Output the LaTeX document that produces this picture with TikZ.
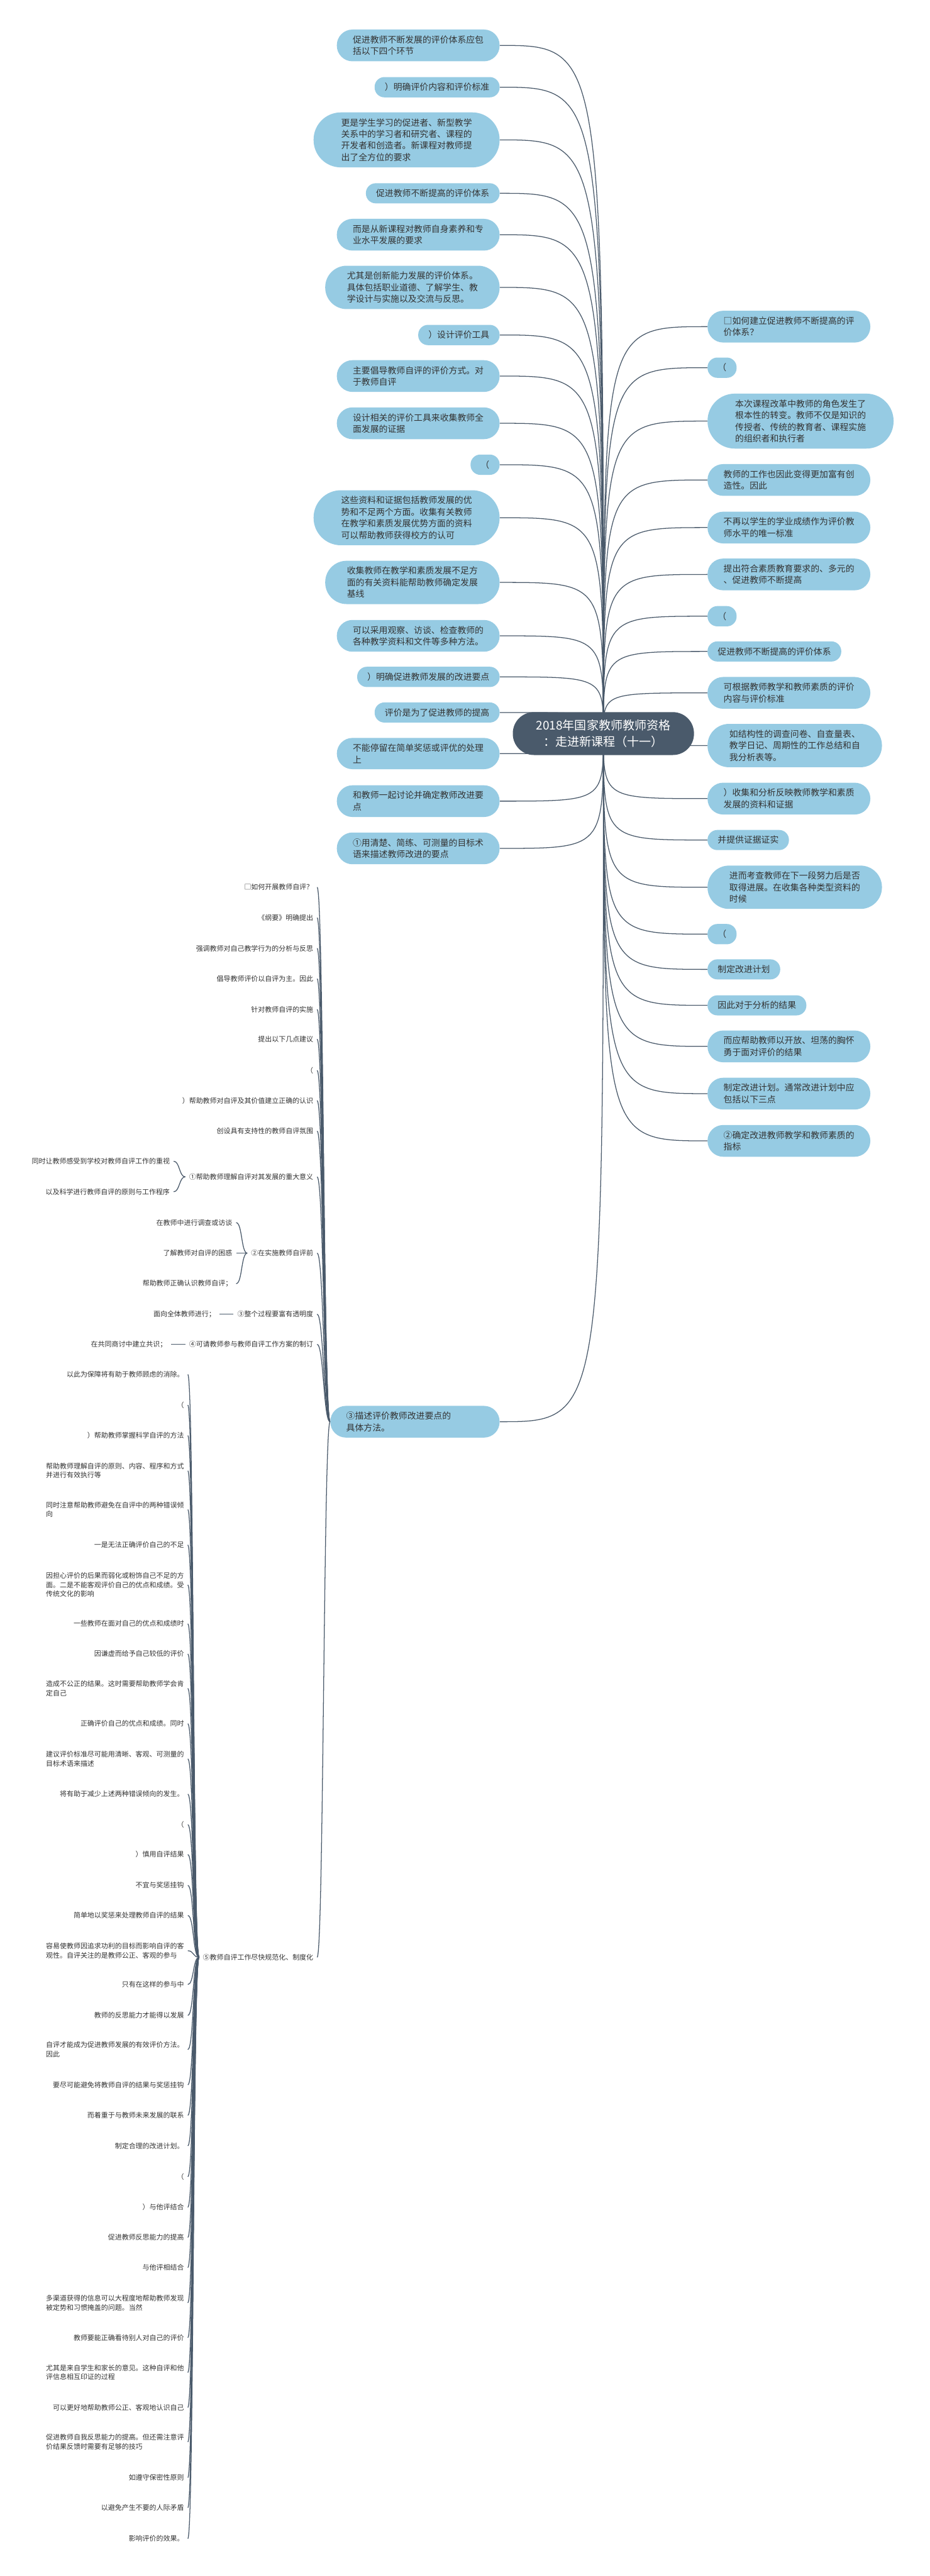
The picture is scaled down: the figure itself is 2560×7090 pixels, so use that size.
\documentclass[tikz,border=0pt]{standalone}
\usepackage{fontspec}
\setmainfont{Noto Sans CJK SC}
\usetikzlibrary{backgrounds}
\definecolor{topicblue}{HTML}{96CBE3}
\definecolor{rootslate}{HTML}{4A5A6B}
\definecolor{linkslate}{HTML}{4A5A6B}
\definecolor{inkgray}{HTML}{333333}
\newcommand{\rootfont}{\fontsize{9.4pt}{12.5pt}\selectfont}
\newcommand{\topicfont}{\fontsize{6.83pt}{9.1pt}\selectfont}
\newcommand{\leaffont}{\fontsize{5.4pt}{7.1pt}\selectfont}

\begin{document}
\begin{tikzpicture}[x=0.1mm, y=-0.1mm,
    rootnode/.style={rectangle, rounded corners=5.8mm, fill=rootslate, text=white, font=\rootfont, align=center, inner xsep=6.4mm, inner ysep=2.1mm, minimum height=11.8mm},
    topic/.style={rectangle, fill=topicblue, text=inkgray, font=\topicfont, align=left, inner ysep=1.65mm},
    pill/.style={rounded corners=#1 mm, inner xsep=#1 mm + 0.1mm},
    leaf/.style={text=inkgray, font=\leaffont, align=left, inner xsep=1mm, inner ysep=0.4mm, anchor=east},
    link/.style={draw=linkslate, line width=0.22mm}
  ]
  \useasboundingbox (0,0) rectangle (2560,7090);

  % Root
  \node[rootnode] (root) at (1661,2019) {2018年国家教师教师资格\\：走进新课程（十一）};

  % Left topics
  \foreach \y/\rad/\txt [count=\i] in {
      125/4.3/{促进教师不断发展的评价体系应包\\括以下四个环节},
      240/2.7/{）明确评价内容和评价标准},
      385/7.5/{更是学生学习的促进者、新型教学\\关系中的学习者和研究者、课程的\\开发者和创造者。新课程对教师提\\出了全方位的要求},
      532/2.7/{促进教师不断提高的评价体系},
      646/4.3/{而是从新课程对教师自身素养和专\\业水平发展的要求},
      791/5.9/{尤其是创新能力发展的评价体系。\\具体包括职业道德、了解学生、教\\学设计与实施以及交流与反思。},
      922/2.7/{）设计评价工具},
      1035/4.3/{主要倡导教师自评的评价方式。对\\于教师自评},
      1165/4.3/{设计相关的评价工具来收集教师全\\面发展的证据},
      1279/2.7/{（},
      1425/7.5/{这些资料和证据包括教师发展的优\\势和不足两个方面。收集有关教师\\在教学和素质发展优势方面的资料\\可以帮助教师获得校方的认可},
      1603/5.9/{收集教师在教学和素质发展不足方\\面的有关资料能帮助教师确定发展\\基线},
      1750/4.3/{可以采用观察、访谈、检查教师的\\各种教学资料和文件等多种方法。},
      1863/2.7/{）明确促进教师发展的改进要点},
      1961/2.7/{评价是为了促进教师的提高},
      2074/4.3/{不能停留在简单奖惩或评优的处理\\上},
      2205/4.3/{和教师一起讨论并确定教师改进要\\点},
      2335/4.3/{①用清楚、简练、可测量的目标术\\语来描述教师改进的要点}} {
    \node[topic, pill=\rad, anchor=east] (l\i) at (1376,\y) {\txt};
  }
  \node[topic, pill=4.3, anchor=east, text width=37.8mm] (miaoshu) at (1376,3913) {③描述评价教师改进要点的\\具体方法。};

  % Right topics
  \foreach \y/\rad/\txt [count=\i] in {
      899/4.3/{□如何建立促进教师不断提高的评\\价体系？},
      1012/2.7/{（},
      1159/7.5/{本次课程改革中教师的角色发生了\\根本性的转变。教师不仅是知识的\\传授者、传统的教育者、课程实施\\的组织者和执行者},
      1321/4.3/{教师的工作也因此变得更加富有创\\造性。因此},
      1452/4.3/{不再以学生的学业成绩作为评价教\\师水平的唯一标准},
      1581/4.3/{提出符合素质教育要求的、多元的\\、促进教师不断提高},
      1696/2.7/{（},
      1793/2.7/{促进教师不断提高的评价体系},
      1907/4.3/{可根据教师教学和教师素质的评价\\内容与评价标准},
      2052/5.9/{如结构性的调查问卷、自查量表、\\教学日记、周期性的工作总结和自\\我分析表等。},
      2198/4.3/{）收集和分析反映教师教学和素质\\发展的资料和证据},
      2312/2.7/{并提供证据证实},
      2442/5.9/{进而考查教师在下一段努力后是否\\取得进展。在收集各种类型资料的\\时候},
      2571/2.7/{（},
      2668/2.7/{制定改进计划},
      2767/2.7/{因此对于分析的结果},
      2880/4.3/{而应帮助教师以开放、坦荡的胸怀\\勇于面对评价的结果},
      3010/4.3/{制定改进计划。通常改进计划中应\\包括以下三点},
      3140/4.3/{②确定改进教师教学和教师素质的\\指标}} {
    \node[topic, pill=\rad, anchor=west] (r\i) at (1947,\y) {\txt};
  }

  % Teacher self-evaluation
  \foreach \y/\txt [count=\i] in {
      2442/{□如何开展教师自评？},
      2526/{《纲要》明确提出},
      2610/{强调教师对自己教学行为的分析与反思},
      2694/{倡导教师评价以自评为主。因此},
      2778/{针对教师自评的实施},
      2860/{提出以下几点建议},
      2946/{（},
      3029/{）帮助教师对自评及其价值建立正确的认识},
      3113/{创设具有支持性的教师自评氛围},
      3239/{①帮助教师理解自评对其发展的重大意义},
      3449/{②在实施教师自评前},
      3617/{③整个过程要富有透明度},
      3700/{④可请教师参与教师自评工作方案的制订},
      5387/{⑤教师自评工作尽快规范化、制度化}} {
    \node[leaf] (c\i) at (873,\y) {\txt};
  }

  % Details of 1 to 4
  \node[leaf] (ca1) at (478,3196) {同时让教师感受到学校对教师自评工作的重视};
  \node[leaf] (ca2) at (478,3280) {以及科学进行教师自评的原则与工作程序};
  \node[leaf] (cb1) at (650,3365) {在教师中进行调查或访谈};
  \node[leaf] (cb2) at (650,3449) {了解教师对自评的困惑};
  \node[leaf] (cb3) at (650,3533) {帮助教师正确认识教师自评；};
  \node[leaf] (cc1) at (604,3617) {面向全体教师进行；};
  \node[leaf] (cd1) at (470,3700) {在共同商讨中建立共识；};

  % Details of 5
  \foreach \y/\txt [count=\i] in {
      3783/{以此为保障将有助于教师顾虑的消除。},
      3867/{（},
      3951/{）帮助教师掌握科学自评的方法},
      4048/{帮助教师理解自评的原则、内容、程序和方式\\并进行有效执行等},
      4155/{同时注意帮助教师避免在自评中的两种错误倾\\向},
      4252/{一是无法正确评价自己的不足},
      4362/{因担心评价的后果而弱化或粉饰自己不足的方\\面。二是不能客观评价自己的优点和成绩。受\\传统文化的影响},
      4469/{一些教师在面对自己的优点和成绩时},
      4552/{因谦虚而给予自己较低的评价},
      4647/{造成不公正的结果。这时需要帮助教师学会肯\\定自己},
      4744/{正确评价自己的优点和成绩。同时},
      4841/{建议评价标准尽可能用清晰、客观、可测量的\\目标术语来描述},
      4938/{将有助于减少上述两种错误倾向的发生。},
      5022/{（},
      5104/{）慎用自评结果},
      5189/{不宜与奖惩挂钩},
      5272/{简单地以奖惩来处理教师自评的结果},
      5369/{容易使教师因追求功利的目标而影响自评的客\\观性。自评关注的是教师公正、客观的参与},
      5462/{只有在这样的参与中},
      5547/{教师的反思能力才能得以发展},
      5641/{自评才能成为促进教师发展的有效评价方法。\\因此},
      5738/{要尽可能避免将教师自评的结果与奖惩挂钩},
      5822/{而着重于与教师未来发展的联系},
      5906/{制定合理的改进计划。},
      5991/{（},
      6075/{）与他评结合},
      6158/{促进教师反思能力的提高},
      6241/{与他评相结合},
      6338/{多渠道获得的信息可以大程度地帮助教师发现\\被定势和习惯掩盖的问题。当然},
      6434/{教师要能正确看待别人对自己的评价},
      6530/{尤其是来自学生和家长的意见。这种自评和他\\评信息相互印证的过程},
      6626/{可以更好地帮助教师公正、客观地认识自己},
      6721/{促进教师自我反思能力的提高。但还需注意评\\价结果反馈时需要有足够的技巧},
      6819/{如遵守保密性原则},
      6902/{以避免产生不要的人际矛盾},
      6987/{影响评价的效果。}} {
    \node[leaf] (g\i) at (517,\y) {\txt};
  }

  % Connectors
  \begin{scope}[on background layer]
    \fill[white] (0,0) rectangle (2560,7090);
    \foreach \i in {1,...,18}
      \draw[link] (l\i.east) .. controls (root.center |- l\i.east) .. (root.center);
    \draw[link] (miaoshu.east) .. controls (root.center |- miaoshu.east) .. (root.center);
    \foreach \i in {1,...,19}
      \draw[link] (r\i.west) .. controls (root.center |- r\i.west) .. (root.center);
    \foreach \i in {1,...,14}
      \draw[link] (miaoshu.west) .. controls +(-18,0) and +(18,0) .. (c\i.east);
    \foreach \i in {1,2}
      \draw[link] (c10.west) .. controls +(-17,0) and +(17,0) .. (ca\i.east);
    \foreach \i in {1,2,3}
      \draw[link] (c11.west) .. controls +(-17,0) and +(17,0) .. (cb\i.east);
    \draw[link] (c12.west) -- (cc1.east);
    \draw[link] (c13.west) -- (cd1.east);
    \foreach \i in {1,...,36}
      \draw[link] (c14.west) .. controls +(-17,0) and +(17,0) .. (g\i.east);
  \end{scope}
\end{tikzpicture}
\end{document}
